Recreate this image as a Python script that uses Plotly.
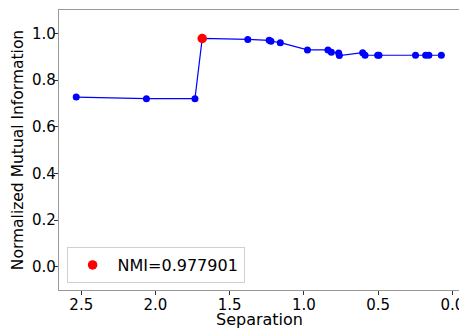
import plotly.graph_objects as go

separation = [2.534, 2.061, 1.734, 1.685, 1.378, 1.234, 1.222, 1.159, 0.976, 0.838,
              0.815, 0.766, 0.761, 0.604, 0.588, 0.503, 0.494, 0.248, 0.180, 0.158, 0.074]
nmi = [0.727, 0.720, 0.720, 0.978, 0.974, 0.970, 0.966, 0.960, 0.929, 0.929,
       0.919, 0.916, 0.905, 0.917, 0.906, 0.906, 0.906, 0.906, 0.906, 0.906, 0.906]
best_sep = [1.685]
best_nmi = [0.977901]
x_ticks = [2.5, 2.0, 1.5, 1.0, 0.5, 0.0]
y_ticks = [0.0, 0.2, 0.4, 0.6, 0.8, 1.0]
x_label = "Separation"
y_label = "Normalized Mutual Information"

font = "DejaVu Sans"
fig = go.Figure()
fig.add_trace(go.Scatter(x=separation, y=nmi, mode="lines+markers",
                         line=dict(color="blue", width=1.2),
                         marker=dict(color="blue", size=7),
                         showlegend=False))
fig.add_trace(go.Scatter(x=best_sep, y=best_nmi, mode="markers",
                         marker=dict(color="red", size=9.5),
                         name="NMI=%.6f" % best_nmi[0]))

axis_common = dict(showgrid=False, zeroline=False, showline=True, linecolor="#999999",
                   linewidth=1.2, ticks="outside", ticklen=4, automargin=False,
                   tickcolor="#333333", ticklabeloverflow="allow",
                   tickfont=dict(family=font, size=15, color="black"))
fig.update_xaxes(range=[2.65, -0.045], tickvals=x_ticks, mirror=True,
                 ticktext=["%.1f" % v for v in x_ticks], ticklabelstandoff=-3,
                 **axis_common)
fig.update_yaxes(range=[-0.1, 1.1], tickvals=y_ticks, mirror=False,
                 ticktext=["%.1f" % v for v in y_ticks], ticklabelstandoff=-5,
                 title=dict(text=y_label,
                            font=dict(family=font, size=15.5, color="black"), standoff=4),
                 **axis_common)
fig.add_annotation(text=x_label, xref="paper", yref="paper", x=0.5, y=-0.105,
                   xanchor="center", yanchor="middle", showarrow=False,
                   font=dict(family=font, size=16, color="black"))
fig.update_layout(width=459, height=330, margin=dict(l=59, r=0, t=10, b=40),
                  plot_bgcolor="white", paper_bgcolor="white",
                  legend=dict(x=0.019, y=0.025, xanchor="left", yanchor="bottom",
                              bgcolor="white", bordercolor="#d0d0d0", borderwidth=1,
                              itemwidth=40,
                              font=dict(family=font, size=16, color="black")))
fig.write_html("out.html")
